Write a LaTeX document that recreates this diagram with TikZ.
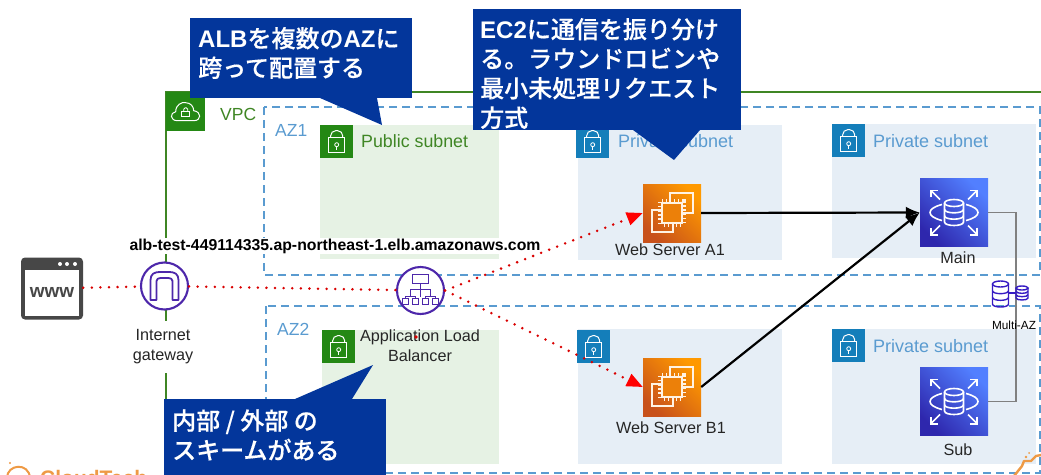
\documentclass[tikz,border=0pt]{standalone}
\usepackage{fontspec}
\setmainfont{Liberation Sans}
\newfontfamily\cjk[FakeBold=0.4]{Noto Sans CJK JP Medium}
\usetikzlibrary{arrows.meta}
\definecolor{vpcgreen}{HTML}{3F8624}
\definecolor{subgreen}{HTML}{248814}
\definecolor{subblue}{HTML}{147EBA}
\definecolor{pubfill}{HTML}{E6F2E4}
\definecolor{prifill}{HTML}{E6EEF6}
\definecolor{azblue}{HTML}{5A9BD0}
\definecolor{notefill}{HTML}{03369B}
\definecolor{albpurple}{HTML}{4D27AA}
\definecolor{logoorange}{HTML}{EE9A45}
\definecolor{ec2low}{HTML}{C8511B}
\definecolor{ec2high}{HTML}{FF9900}
\definecolor{rdslow}{HTML}{2E27AD}
\definecolor{rdshigh}{HTML}{527FFF}
\definecolor{iconline}{HTML}{FFF3E4}
\newcommand{\lat}[1]{{\rmfamily\bfseries #1}}
% cylinder at the origin: x radius, half height, y radius
\newcommand{\dbcyl}[3]{
	\draw (0,-#2) ellipse[x radius=#1, y radius=#3];
	\draw (-#1,-#2) -- (-#1,#2) .. controls ({-#1},{#2+1.33*#3}) and (#1,{#2+1.33*#3}) .. (#1,#2) -- (#1,-#2);
	\draw (-#1,{-#2/3}) .. controls ({-#1},{-#2/3+1.33*#3}) and (#1,{-#2/3+1.33*#3}) .. (#1,{-#2/3});
	\draw (-#1,{#2/3}) .. controls ({-#1},{#2/3+1.33*#3}) and (#1,{#2/3+1.33*#3}) .. (#1,{#2/3});
}
\tikzset{
	label16/.style={font=\fontsize{16.2}{20}\selectfont, text=black!85, inner sep=0pt},
	subgreentext/.style={font=\fontsize{17.8}{20}\selectfont, text=vpcgreen, anchor=west, inner sep=0pt},
	subbluetext/.style={font=\fontsize{18}{20}\selectfont, text=azblue, anchor=west, inner sep=0pt},
	aztext/.style={font=\fontsize{17.5}{20}\selectfont, text=azblue, anchor=west, inner sep=0pt},
	azbox/.style={draw=azblue, line width=1.1pt, dash pattern=on 8pt off 5pt},
	tagbox/.style={minimum size=33pt, inner sep=0pt, anchor=north west},
	ec2box/.style={minimum size=58pt, inner sep=0pt, shading=axis, bottom color=ec2low, top color=ec2high, shading angle=-45},
	rdsbox/.style={minimum size=68pt, inner sep=0pt, shading=axis, bottom color=rdslow, top color=rdshigh, shading angle=-45},
	ringbox/.style={shape=circle, draw=albpurple, fill=white, line width=2.1pt, minimum size=47pt, inner sep=0pt},
	notebox/.style={fill=notefill, anchor=north west, inner sep=0pt},
	notetext/.style={text=white, anchor=west, align=left, inner sep=0pt, font=\cjk\fontsize{24}{29.5}\selectfont},
	reddots/.style={red!85!black, line width=2.8pt, line cap=round, dash pattern=on 0pt off 8.6pt},
	redtip/.style={-{Triangle[length=16pt,width=13pt,fill=red,color=red,sep=0pt]}},
	blackwire/.style={line width=2.2pt, -{Latex[length=14pt,width=12pt]}},
	lockicon/.pic={
		\draw[white, line width=1pt] (-8,-4) rectangle (8,11);
		\draw[white, line width=1pt] (-6,-4) [rounded corners=5pt] -- (-6,-11) -- (6,-11) -- (6,-4);
		\draw[white, line width=.8pt] (0,3) circle[radius=2];
		\draw[white, line width=.8pt] (0,5) -- (0,8);
	},
	cloudicon/.pic={
		\draw[white, line width=1pt] (-8,9) .. controls (-16,9) and (-16,1) .. (-10,0) .. controls (-10,-7) and (-4,-10) .. (0,-9) .. controls (5,-9) and (8,-5) .. (8,-1) .. controls (16,0) and (16,9) .. (8,9) -- cycle;
		\draw[white, line width=.9pt] (-4,0) rectangle (4,5);
		\draw[white, line width=.9pt] (-2,0) [rounded corners=1.5pt] -- (-2,-4) -- (2,-4) -- (2,0);
	},
	archicon/.pic={
		\draw[albpurple, line width=1.8pt, line join=round] (-14,14) -- (-14,-6) .. controls (-14,-12) and (-10,-14) .. (-5,-14) -- (5,-14) .. controls (10,-14) and (14,-12) .. (14,-6) -- (14,14) -- (8,14) -- (8,-5) .. controls (8,-7) and (6,-8) .. (4,-8) -- (-4,-8) .. controls (-6,-8) and (-8,-7) .. (-8,-5) -- (-8,14) -- cycle;
	},
	treeicon/.pic={
		\draw[albpurple, line width=1.9pt] (-8,-16) rectangle (8,-7);
		\draw[albpurple, line width=1.7pt] (0,-7) -- (0,6) (-10,6) -- (-10,-1) -- (10,-1) -- (10,6);
		\draw[albpurple, line width=1.7pt] (-15,8) -- (-15,6) -- (-5,6) -- (-5,8) (5,8) -- (5,6) -- (15,6) -- (15,8);
		\draw[albpurple, line width=1.6pt] (-18,8) rectangle (-12,14) (-8,8) rectangle (-2,14) (2,8) rectangle (8,14) (12,8) rectangle (18,14);
	},
	ec2icon/.pic={
		\draw[iconline, line width=1.4pt] (-2,-11) -- (-2,-20) -- (21,-20) -- (21,0) -- (11,0);
		\draw[iconline, line width=1.4pt] (-11,-3) -- (-20,-3) -- (-20,19) -- (1,19) -- (1,11);
		\draw[iconline, line width=6pt, dash pattern=on 1.3pt off 2.8pt] (-11,-11) rectangle (11,11);
		\fill[ec2low!35!ec2high] (-10,-10) rectangle (10,10);
		\draw[iconline, line width=1.4pt] (-10,-10) rectangle (10,10);
	},
	rdsicon/.pic={
		\begin{scope}[white, line width=1.6pt]
			\dbcyl{9.5}{9.5}{3.5}
			\draw (-12,-8) .. controls (-28,-4) and (-28,4) .. (-12,8);
			\draw (12,-8) .. controls (28,-4) and (28,4) .. (12,8);
			\draw[-{Straight Barb[length=5pt,width=10pt]}] (-14,-13) -- (-24,-23);
			\draw[-{Straight Barb[length=5pt,width=10pt]}] (14,-13) -- (24,-23);
			\draw[-{Straight Barb[length=5pt,width=10pt]}] (-14,13) -- (-24,23);
			\draw[-{Straight Barb[length=5pt,width=10pt]}] (14,13) -- (24,23);
		\end{scope}
	},
}
\begin{document}
\begin{tikzpicture}[x=1pt, y=-1pt]
	\useasboundingbox (0,0) rectangle (1041,474);
	\clip (0,0) rectangle (1041,474);
	% Groups:
	\coordinate (vpcbl) at (166,474);
	\coordinate (vpctr) at (1045,92);
	\draw[vpcgreen, line width=1.7pt] (vpcbl) |- (vpctr);
	\draw[azbox] (264,107) rectangle (1040,275);
	\draw[azbox] (266,306) rectangle (1040,473);
	\fill[pubfill] (320,125) rectangle (499,259);
	\fill[prifill] (578,125) rectangle (782,260);
	\fill[prifill] (832,124) rectangle (1036,258);
	\fill[pubfill] (322,330) rectangle (499,464);
	\fill[prifill] (578,329) rectangle (782,464);
	\fill[prifill] (832,329) rectangle (1036,464);
	% Tags and their texts:
	\node[fill=subgreen, minimum size=39pt, inner sep=0pt, anchor=north west] (vpctag) at (166,92){};
	\pic at (vpctag.center) {cloudicon};
	\node[font=\fontsize{17.5}{20}\selectfont, text=vpcgreen, anchor=west, inner sep=0pt] (vpctext) at (220,114){VPC};
	\node[aztext] (az1text) at (275,130){AZ1};
	\node[aztext] (az2text) at (277,329){AZ2};
	\node[tagbox, fill=subgreen] (pubtag1) at (320,125){};
	\pic at (pubtag1.center) {lockicon};
	\node[subgreentext] (pubtext1) at (361,141){Public subnet};
	\node[tagbox, fill=subgreen] (pubtag2) at (322,330){};
	\pic at (pubtag2.center) {lockicon};
	\node[tagbox, fill=subblue] (pritag1) at (576,125){};
	\pic at (pritag1.center) {lockicon};
	\node[subbluetext] (pritext1) at (618,141){Private subnet};
	\node[tagbox, fill=subblue] (pritag2) at (832,124){};
	\pic at (pritag2.center) {lockicon};
	\node[subbluetext] (pritext2) at (873,141){Private subnet};
	\node[tagbox, fill=subblue] (pritag3) at (577,330){};
	\pic at (pritag3.center) {lockicon};
	\node[tagbox, fill=subblue] (pritag4) at (832,329){};
	\pic at (pritag4.center) {lockicon};
	\node[subbluetext] (pritext4) at (873,346){Private subnet};
	% Services:
	\node[fill=black!72, rounded corners=4pt, minimum size=62pt, inner sep=0pt] (www) at (52,288.5){};
	\fill[white] (25,270) rectangle (79,316);
	\fill[white] (60,264) circle[radius=2] (67,264) circle[radius=2] (75,264) circle[radius=2];
	\node[font=\bfseries\fontsize{19}{20}\selectfont, text=black!72, inner sep=0pt] (wwwtext) at (52,292){www};
	\node[draw=white, fill=white, text=black!85, font=\fontsize{16.2}{20}\selectfont, align=center, inner sep=0pt, minimum width=64pt, minimum height=51pt] (igwlabel) at (163,346.5){Internet\\gateway};
	\node[fill=white, font=\bfseries\fontsize{15.8}{18}\selectfont, inner sep=1pt] (urltext) at (335,246){alb-test-449114335.ap-northeast-1.elb.amazonaws.com};
	\node[ringbox] (igw) at (164.5,286){};
	\pic at (igw.center) {archicon};
	\node[ringbox] (alb) at (420.5,290.5){};
	\pic at (alb.center) {treeicon};
	\node[label16, align=center] (alblabel) at (420,346){Application Load\\Balancer};
	\fill[red!85!black] (416,337) circle[radius=1.8];
	\node[ec2box] (ec2a) at (672,213){};
	\pic at (ec2a.center) {ec2icon};
	\node[label16] (ec2alabel) at (670,250){Web Server A1};
	\node[ec2box] (ec2b) at (672,387){};
	\pic at (ec2b.center) {ec2icon};
	\node[label16] (ec2blabel) at (671,428){Web Server B1};
	\node[rdsbox] (rdsmain) at (954,212.5){};
	\pic at (rdsmain.center) {rdsicon};
	\node[label16] (rdsmainlabel) at (958,258){Main};
	\node[rdsbox] (rdssub) at (954,401.5){};
	\pic at (rdssub.center) {rdsicon};
	\node[label16] (rdssublabel) at (958,450){Sub};
	% Wires:
	\coordinate (replica) at (1016,300);
	\draw[black!50, line width=1.3pt] (rdsmain.east) -| (replica) |- (rdssub.east);
	\draw[reddots] (www) -- (igw);
	\draw[reddots] (igw) -- (alb);
	\draw[reddots, redtip] (alb.east) -- (ec2a.west);
	\draw[reddots, redtip] (alb.east) -- (ec2b.west);
	\draw[blackwire] (ec2a.east) -- (rdsmain.west);
	\draw[blackwire] (ec2b.east) -- (rdsmain.west);
	% Multi-AZ:
	\begin{scope}[shift={(1000.5,294)}, draw=albpurple!70!blue, line width=1.4pt]
		\dbcyl{8}{10}{3}
	\end{scope}
	\begin{scope}[shift={(1022,293)}, draw=albpurple!70!blue, line width=1.4pt]
		\dbcyl{6}{5}{2}
	\end{scope}
	\draw[albpurple!70!blue, line width=1.4pt] (1008.5,293) -- (1016,293);
	\node[font=\fontsize{11.8}{14}\selectfont, inner sep=0pt] (multilabel) at (1014,325){Multi-AZ};
	% Notes:
	\fill[notefill] (320,98) -- (382,125) -- (377,98) -- cycle;
	\node[notebox, minimum width=222pt, minimum height=80pt] (albnote) at (190,18){};
	\node[notetext] (albnotetext) at (198,53){\lat{ALB}を複数の\lat{AZ}に\\跨って配置する};
	\fill[notefill] (633,130) -- (674,160) -- (700,130) -- cycle;
	\node[notebox, minimum width=268pt, minimum height=121pt] (ec2note) at (473,9){};
	\node[notetext] (ec2notetext) at (480,73.5){\lat{EC2}に通信を振り分け\\る。ラウンドロビンや\\最小未処理リクエスト\\方式};
	\fill[notefill] (295,399) -- (373,365) -- (352,399) -- cycle;
	\node[notebox, minimum width=222pt, minimum height=76pt] (schemenote) at (164,399){};
	\node[notetext] (schemenotetext) at (172,435){内部 / 外部 の\\スキームがある};
	% Logo pieces at the edges:
	\draw[logoorange, line width=2pt] (7,478) .. controls (7,464) and (29,462) .. (30,478);
	\fill[logoorange] (10,463) circle[radius=1.2];
	\node[font=\bfseries\fontsize{21}{24}\selectfont, text=logoorange, anchor=west, inner sep=0pt] (logotext) at (40,478){CloudTech};
	\draw[logoorange, line width=2.4pt, line join=round] (1014,476) -- (1022,466) -- (1024,461) -- (1031,461) -- (1036,456) -- (1041,455);
	\fill[logoorange] (1026,457) circle[radius=1.3] (1029,453) circle[radius=1];
\end{tikzpicture}
\end{document}
